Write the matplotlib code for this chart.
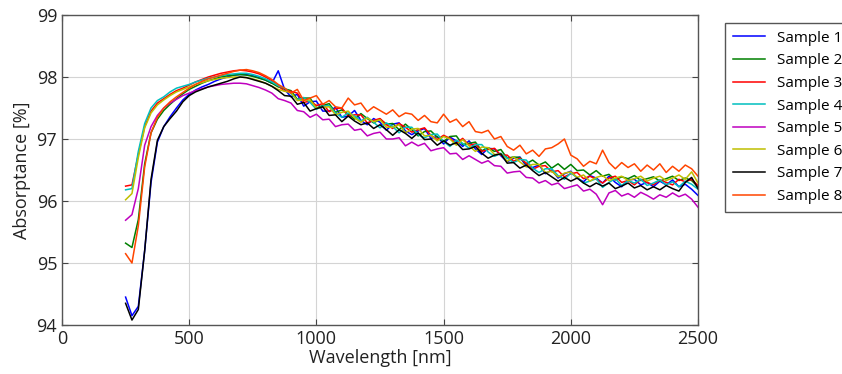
import matplotlib
matplotlib.use("Agg")
import matplotlib.pyplot as plt
import numpy as np

# wavelength grid [nm]
wavelength = np.arange(250, 2501, 25)

# absorptance [%] per sample
sample1 = [94.45, 94.15, 94.3, 95.2, 96.3, 96.95, 97.2, 97.36, 97.5, 97.63, 97.72, 97.79, 97.84,
           97.88, 97.93, 97.97, 98.0, 98.03, 98.04, 98.04, 98.02, 97.99, 97.95, 97.9, 98.1,
           97.80, 97.68, 97.72, 97.53, 97.60, 97.61, 97.45, 97.45, 97.51, 97.35, 97.37, 97.46,
           97.30, 97.23, 97.33, 97.27, 97.14, 97.24, 97.26, 97.13, 97.07, 97.13, 97.17, 97.01,
           97.04, 96.92, 97.03, 96.97, 96.88, 96.97, 96.84, 96.75, 96.85, 96.84, 96.73, 96.63,
           96.69, 96.71, 96.56, 96.54, 96.58, 96.44, 96.50, 96.37, 96.44, 96.48, 96.37, 96.31,
           96.41, 96.37, 96.29, 96.40, 96.30, 96.23, 96.34, 96.35, 96.26, 96.30, 96.23, 96.32,
           96.26, 96.34, 96.23, 96.27, 96.19, 96.09]
sample2 = [95.32, 95.25, 95.7, 96.6, 97.1, 97.32, 97.46, 97.56, 97.65, 97.73, 97.8, 97.85, 97.9,
           97.94, 97.97, 98.0, 98.02, 98.03, 98.04, 98.03, 98.01, 97.98, 97.95, 97.9, 97.84,
           97.81, 97.78, 97.64, 97.66, 97.66, 97.50, 97.54, 97.57, 97.43, 97.47, 97.40, 97.32,
           97.41, 97.33, 97.26, 97.32, 97.24, 97.25, 97.15, 97.24, 97.15, 97.05, 97.12, 97.13,
           97.03, 96.96, 97.04, 97.05, 96.91, 96.93, 96.95, 96.81, 96.86, 96.80, 96.83, 96.69,
           96.71, 96.70, 96.60, 96.66, 96.58, 96.63, 96.53, 96.60, 96.51, 96.59, 96.49, 96.50,
           96.42, 96.49, 96.40, 96.43, 96.34, 96.39, 96.36, 96.41, 96.33, 96.36, 96.39, 96.32,
           96.36, 96.40, 96.33, 96.37, 96.33, 96.23]
sample3 = [96.24, 96.26, 96.75, 97.2, 97.45, 97.58, 97.65, 97.72, 97.78, 97.82, 97.87, 97.92, 97.96,
           98.0, 98.03, 98.06, 98.08, 98.1, 98.11, 98.1, 98.08, 98.05, 98.0, 97.94, 97.86,
           97.77, 97.77, 97.74, 97.59, 97.61, 97.54, 97.57, 97.44, 97.49, 97.50, 97.37, 97.39,
           97.39, 97.26, 97.30, 97.33, 97.23, 97.17, 97.25, 97.19, 97.11, 97.15, 97.18, 97.06,
           96.99, 97.06, 97.01, 96.93, 97.01, 96.90, 96.92, 96.80, 96.83, 96.85, 96.74, 96.74,
           96.64, 96.69, 96.61, 96.51, 96.56, 96.57, 96.47, 96.49, 96.39, 96.44, 96.46, 96.36,
           96.40, 96.35, 96.29, 96.37, 96.40, 96.30, 96.33, 96.26, 96.35, 96.30, 96.26, 96.34,
           96.30, 96.26, 96.35, 96.31, 96.35, 96.25]
sample4 = [96.18, 96.2, 96.8, 97.25, 97.5, 97.62, 97.68, 97.76, 97.82, 97.85, 97.88, 97.92, 97.95,
           97.98, 98.0, 98.02, 98.04, 98.05, 98.06, 98.06, 98.04, 98.01, 97.97, 97.92, 97.86,
           97.82, 97.73, 97.63, 97.67, 97.59, 97.48, 97.53, 97.54, 97.42, 97.35, 97.42, 97.37,
           97.29, 97.35, 97.27, 97.18, 97.26, 97.20, 97.10, 97.19, 97.19, 97.07, 97.02, 97.07,
           97.08, 96.96, 96.88, 96.98, 96.93, 96.85, 96.91, 96.91, 96.79, 96.72, 96.77, 96.69,
           96.62, 96.67, 96.66, 96.53, 96.46, 96.52, 96.52, 96.41, 96.35, 96.45, 96.38, 96.29,
           96.32, 96.36, 96.22, 96.30, 96.36, 96.25, 96.33, 96.29, 96.35, 96.25, 96.29, 96.34,
           96.26, 96.31, 96.23, 96.32, 96.27, 96.19]
sample5 = [95.69, 95.78, 96.2, 96.9, 97.2, 97.38, 97.5, 97.58, 97.64, 97.7, 97.74, 97.78, 97.81,
           97.84, 97.86, 97.88, 97.89, 97.9, 97.9, 97.89, 97.86, 97.83, 97.79, 97.74, 97.65,
           97.62, 97.58, 97.46, 97.44, 97.35, 97.40, 97.31, 97.32, 97.20, 97.23, 97.24, 97.14,
           97.16, 97.05, 97.09, 97.11, 97.00, 97.00, 97.02, 96.89, 96.95, 96.89, 96.93, 96.81,
           96.84, 96.86, 96.76, 96.77, 96.67, 96.73, 96.67, 96.61, 96.65, 96.57, 96.56, 96.45,
           96.47, 96.48, 96.38, 96.37, 96.29, 96.33, 96.26, 96.29, 96.20, 96.23, 96.26, 96.16,
           96.19, 96.11, 95.94, 96.13, 96.17, 96.08, 96.12, 96.06, 96.14, 96.09, 96.03, 96.10,
           96.06, 96.13, 96.07, 96.11, 96.03, 95.90]
sample6 = [96.02, 96.12, 96.7, 97.18, 97.42, 97.55, 97.63, 97.7, 97.76, 97.8, 97.84, 97.88, 97.91,
           97.94, 97.96, 97.98, 97.99, 98.0, 98.0, 97.99, 97.97, 97.94, 97.9, 97.85, 97.8,
           97.77, 97.75, 97.62, 97.63, 97.63, 97.50, 97.51, 97.52, 97.39, 97.43, 97.45, 97.34,
           97.27, 97.34, 97.28, 97.31, 97.19, 97.19, 97.23, 97.10, 97.16, 97.17, 97.05, 97.06,
           96.97, 97.04, 97.00, 96.90, 96.99, 96.89, 96.80, 96.87, 96.86, 96.75, 96.76, 96.64,
           96.71, 96.63, 96.55, 96.59, 96.59, 96.46, 96.48, 96.39, 96.45, 96.47, 96.38, 96.42,
           96.32, 96.38, 96.41, 96.33, 96.37, 96.40, 96.33, 96.36, 96.40, 96.32, 96.37, 96.40,
           96.33, 96.37, 96.42, 96.35, 96.47, 96.29]
sample7 = [94.35, 94.08, 94.25, 95.2, 96.35, 96.98, 97.2, 97.33, 97.45, 97.6, 97.7, 97.76, 97.8,
           97.84, 97.87, 97.9, 97.93, 97.97, 98.0, 97.99, 97.96, 97.93, 97.9, 97.85, 97.78,
           97.70, 97.69, 97.56, 97.59, 97.45, 97.49, 97.52, 97.38, 97.39, 97.28, 97.37, 97.29,
           97.23, 97.26, 97.17, 97.23, 97.15, 97.06, 97.15, 97.09, 97.01, 97.10, 96.99, 97.00,
           96.90, 96.97, 96.90, 96.94, 96.83, 96.84, 96.88, 96.77, 96.69, 96.74, 96.76, 96.61,
           96.62, 96.53, 96.58, 96.49, 96.41, 96.46, 96.39, 96.32, 96.38, 96.32, 96.37, 96.29,
           96.23, 96.29, 96.24, 96.29, 96.20, 96.24, 96.29, 96.21, 96.25, 96.18, 96.23, 96.18,
           96.25, 96.20, 96.16, 96.30, 96.38, 96.20]
sample8 = [95.15, 95.0, 95.6, 96.55, 97.1, 97.35, 97.5, 97.6, 97.68, 97.75, 97.82, 97.88, 97.93,
           97.97, 98.0, 98.03, 98.06, 98.09, 98.11, 98.12, 98.1, 98.07, 98.02, 97.96, 97.88,
           97.82, 97.74, 97.8, 97.62, 97.66, 97.7, 97.56, 97.62, 97.52, 97.5, 97.66, 97.55,
           97.58, 97.44, 97.52, 97.46, 97.4, 97.47, 97.36, 97.42, 97.4, 97.3, 97.38, 97.28,
           97.26, 97.4, 97.27, 97.32, 97.2, 97.28, 97.12, 97.1, 97.14, 97.0, 97.04, 96.88,
           96.82, 96.9, 96.76, 96.82, 96.72, 96.84, 96.86, 96.92, 97.0, 96.74, 96.68, 96.56,
           96.64, 96.6, 96.82, 96.62, 96.52, 96.62, 96.54, 96.6, 96.48, 96.58, 96.5, 96.6,
           96.46, 96.56, 96.48, 96.58, 96.52, 96.4]

samples = [sample1, sample2, sample3, sample4, sample5, sample6, sample7, sample8]
labels = ["Sample 1", "Sample 2", "Sample 3", "Sample 4",
          "Sample 5", "Sample 6", "Sample 7", "Sample 8"]
colors = ["#0000ff", "#008000", "#ff0000", "#00bfbf",
          "#bf00bf", "#bfbf00", "#000000", "#ff4500"]

plt.rcParams['font.family'] = ['Open Sans', 'DejaVu Sans']

fig = plt.figure(figsize=(8.42, 3.74), dpi=100)
ax = fig.add_axes([62 / 842, 49 / 374, 636 / 842, 310 / 374])

for vals, lab, col in zip(samples, labels, colors):
    ax.plot(wavelength, vals, color=col, linewidth=1.1, label=lab)

ax.set_xlim(0, 2500)
ax.set_ylim(94, 99)
ax.set_xticks([0, 500, 1000, 1500, 2000, 2500])
ax.set_yticks([94, 95, 96, 97, 98, 99])
ax.grid(True, color='#d4d4d4', linewidth=0.8)
ax.set_axisbelow(True)
ax.tick_params(direction='in', top=True, right=True, length=4, width=0.8,
               color='#444444', labelsize=13, labelcolor='#222222')
for sp in ax.spines.values():
    sp.set_color('#555555')
    sp.set_linewidth(1.0)

ax.set_xlabel("Wavelength [nm]", fontsize=13, color='#222222', labelpad=1)
ax.set_ylabel("Absorptance [%]", fontsize=13, color='#222222', labelpad=4)

leg = fig.legend(loc='upper left', bbox_to_anchor=(725 / 842, 1 - 23 / 374),
                 borderaxespad=0, fontsize=11, fancybox=False, framealpha=1,
                 handlelength=2.1, labelspacing=0.5, borderpad=0.5)
leg.get_frame().set_edgecolor('#555555')
leg.get_frame().set_linewidth(1.0)

fig.savefig("out.png", dpi=100)
